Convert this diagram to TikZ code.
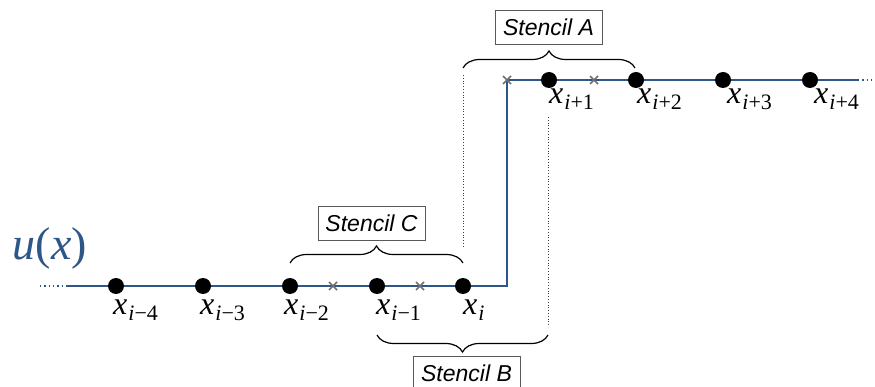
\documentclass[tikz,border=0pt]{standalone}
\usepackage{fontspec}
\setsansfont{Liberation Sans}
\newfontfamily\serifx{Liberation Serif}
\usetikzlibrary{decorations.pathreplacing,calc}
\definecolor{ublue}{HTML}{2C5788}
\definecolor{xgray}{HTML}{707070}
\newcommand\xlab[1]{\textit{x}\kern1pt\raisebox{-6pt}{\fontsize{22}{23}\selectfont#1}}
\tikzset{
  pt/.style={circle,fill=black,inner sep=0pt,minimum size=16pt},
  lbl/.style={anchor=base west,inner sep=0pt,font=\serifx\fontsize{32}{33}\selectfont},
  stbox/.style={draw=black!65,line width=0.6pt,fill=white,minimum width=107pt,minimum height=34pt,inner sep=0pt,font=\sffamily\itshape\fontsize{23}{24}\selectfont},
  brc/.style={decorate,decoration={brace,amplitude=17pt},line width=1.2pt},
  guide/.style={draw=black!75,line width=1pt,dash pattern=on 0.8pt off 2pt},
  curve/.style={draw=ublue,line width=2.6pt},
  xmark/.style={draw=xgray,line width=1.6pt}
}
\begin{document}
\begin{tikzpicture}[x=1pt,y=-1pt]
\useasboundingbox (0,0) rectangle (875,387);
% coordinates
\coordinate (L0) at (40,286);
\coordinate (L1) at (67,286);
\coordinate (K) at (507,286);
\coordinate (T) at (507,80);
\coordinate (R1) at (858,80);
\coordinate (R0) at (874,80);
% line
\draw[curve] (L1) -- (K) -- (T) -- (R1);
\draw[ublue,line width=2.6pt,dash pattern=on 1.3pt off 3pt] (L0) -- (L1);
\draw[ublue,line width=2.6pt,dash pattern=on 1.3pt off 3pt] (R1) -- (R0);
% crosses
\foreach \n/\x/\y in {c1/333/286,c2/420/286,c3/507/80,c4/594/80}{
  \coordinate (\n) at (\x,\y);
  \draw[xmark] ($(\n)+(-4,-4)$) -- ($(\n)+(4,4)$) ($(\n)+(-4,4)$) -- ($(\n)+(4,-4)$);
}
% dots
\node[pt] (m4) at (116,286) {};
\node[pt] (m3) at (203,286) {};
\node[pt] (m2) at (290,286) {};
\node[pt] (m1) at (377,286) {};
\node[pt] (m0) at (463,286) {};
\node[pt] (p1) at (549,80) {};
\node[pt] (p2) at (636,80) {};
\node[pt] (p3) at (723,80) {};
\node[pt] (p4) at (810,80) {};
% labels
\node[lbl] (lm4) at ($(m4.center)+(-3,28)$) {\xlab{\textit{i}−4}};
\node[lbl] (lm3) at ($(m3.center)+(-3,28)$) {\xlab{\textit{i}−3}};
\node[lbl] (lm2) at ($(m2.center)+(-6,28)$) {\xlab{\textit{i}−2}};
\node[lbl] (lm1) at ($(m1.center)+(-1,28)$) {\xlab{\textit{i}−1}};
\node[lbl] (lm0) at ($(m0.center)+(0,28)$) {\xlab{\textit{i}}};
\node[lbl] (lp1) at ($(p1.center)+(0,24)$) {\xlab{\textit{i}+1}};
\node[lbl] (lp2) at ($(p2.center)+(1,24)$) {\xlab{\textit{i}+2}};
\node[lbl] (lp3) at ($(p3.center)+(4,24)$) {\xlab{\textit{i}+3}};
\node[lbl] (lp4) at ($(p4.center)+(4,24)$) {\xlab{\textit{i}+4}};
% u(x)
\node[text=ublue,inner sep=0pt,font=\serifx\fontsize{46}{48}\selectfont] (u) at (50,248) {\textit{u}(\textit{x})};
% guides
\coordinate (g1a) at (463,75);
\coordinate (g1b) at (463,247);
\coordinate (g2a) at (548,117);
\coordinate (g2b) at (548,327);
\draw[guide] (g1a) -- (g1b);
\draw[guide] (g2a) -- (g2b);
% braces
\coordinate (bcL) at (290,263);
\coordinate (bcR) at (463,263);
\draw[brc] (bcL) -- (bcR);
\coordinate (baL) at (463,68);
\coordinate (baR) at (635,68);
\draw[brc] (baL) -- (baR);
\coordinate (bbL) at (377,335);
\coordinate (bbR) at (548,335);
\draw[brc] (bbR) -- (bbL);
% stencil boxes
\node[stbox] (sC) at (371.5,223) {Stencil C};
\node[stbox] (sA) at (548.5,27.5) {Stencil A};
\node[stbox] (sB) at (466.5,373) {Stencil B};
\end{tikzpicture}
\end{document}
